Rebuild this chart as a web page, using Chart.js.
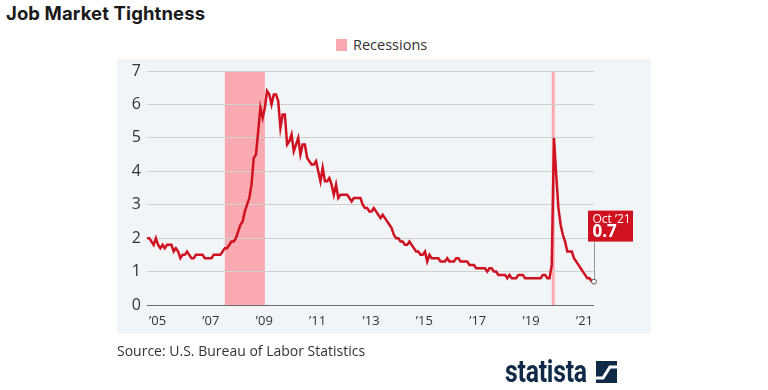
<!DOCTYPE html>
<html>
<head>
<meta charset="utf-8">
<script src="https://cdn.jsdelivr.net/npm/chart.js@4.4.1/dist/chart.umd.min.js"></script>
<style>
  body { margin: 0; width: 768px; height: 390px; background: #fff; position: relative; overflow: hidden; font-family: "Open Sans", sans-serif; }
  #titulo { position: absolute; left: 6px; top: 2px; font: 700 18.5px Inter, sans-serif; color: #1a1a1a; letter-spacing: 0.1px; }
  #legenda { position: absolute; left: 336px; top: 35px; font-size: 14.5px; color: #333; display: flex; align-items: center; }
  #legenda span.caixa { width: 11px; height: 12px; background: #fba9b0; margin-right: 6px; display: inline-block; }
  #painel { position: absolute; left: 117px; top: 59px; width: 534px; height: 275px; background: #f2f5f8; }
  #grafico { position: absolute; left: 0; top: 0; }
  #fonte { position: absolute; left: 117px; top: 341px; font-size: 14px; color: #333; }
  #logo { position: absolute; left: 505px; top: 353px; display: flex; align-items: center; }
  #logo span { font: 700 31px Roboto, sans-serif; color: #0f2a46; transform: scaleX(0.8); transform-origin: left center; display: inline-block; width: 87px; letter-spacing: -0.3px; }
</style>
</head>
<body>
<div id="titulo">Job Market Tightness</div>
<div id="legenda"><span class="caixa"></span>Recessions</div>
<div id="painel"></div>
<canvas id="grafico" width="768" height="390"></canvas>
<div id="fonte">Source: U.S. Bureau of Labor Statistics</div>
<div id="logo"><span>statista</span>
  <svg width="21" height="22" viewBox="0 0 21 22" style="margin-left:4px">
    <rect x="0" y="0" width="21" height="22" fill="#0f2a46"/>
    <polyline points="0,17 7,17 14,6 21,6" fill="none" stroke="#fff" stroke-width="3"/>
  </svg>
</div>

<script>
// ===================== DADOS =======================

const anos = ["2005", "2006", "2007", "2008", "2009", "2010", "2011", "2012", "2013",
  "2014", "2015", "2016", "2017", "2018", "2019", "2020", "2021"];
const meses = ["Jan", "Feb", "Mar", "Apr", "May", "Jun", "Jul", "Aug", "Sep", "Oct", "Nov", "Dec"];

// unemployed persons per job opening, monthly (Jan 2005 - Oct 2021)
const valores = [
  2.0, 2.0, 1.9, 1.8, 2.0, 1.8, 1.7, 1.8, 1.7, 1.8, 1.8, 1.8, // 2005
  1.6, 1.7, 1.6, 1.4, 1.5, 1.5, 1.6, 1.5, 1.4, 1.4, 1.5, 1.5, // 2006
  1.5, 1.5, 1.4, 1.4, 1.4, 1.4, 1.5, 1.5, 1.5, 1.5, 1.6, 1.7, // 2007
  1.7, 1.8, 1.9, 1.9, 2.0, 2.2, 2.4, 2.5, 2.8, 3.0, 3.2, 3.6, // 2008
  4.4, 4.5, 5.2, 5.9, 5.6, 5.9, 6.4, 6.3, 6.0, 6.3, 6.3, 6.1, // 2009
  5.3, 5.7, 5.7, 4.8, 4.9, 5.1, 4.6, 4.8, 5.0, 4.5, 4.8, 4.8, // 2010
  4.4, 4.3, 4.2, 4.2, 4.3, 4.0, 3.7, 4.1, 3.7, 3.7, 3.8, 3.6, // 2011
  3.3, 3.6, 3.2, 3.3, 3.3, 3.3, 3.3, 3.2, 3.1, 3.2, 3.2, 3.2, // 2012
  3.2, 3.0, 2.9, 2.9, 2.8, 2.8, 2.9, 2.8, 2.7, 2.6, 2.7, 2.6, // 2013
  2.5, 2.4, 2.3, 2.1, 2.0, 2.0, 1.9, 1.9, 1.8, 1.8, 1.9, 1.8, // 2014
  1.7, 1.6, 1.6, 1.5, 1.5, 1.6, 1.3, 1.5, 1.4, 1.4, 1.4, 1.4, // 2015
  1.3, 1.3, 1.3, 1.4, 1.3, 1.3, 1.3, 1.4, 1.4, 1.3, 1.3, 1.3, // 2016
  1.3, 1.2, 1.2, 1.2, 1.1, 1.1, 1.1, 1.1, 1.1, 1.0, 1.1, 1.1, // 2017
  1.0, 1.0, 0.9, 0.9, 0.9, 0.9, 0.8, 0.9, 0.8, 0.8, 0.8, 0.9, // 2018
  0.9, 0.9, 0.8, 0.8, 0.8, 0.8, 0.8, 0.8, 0.8, 0.8, 0.9, 0.9, // 2019
  0.8, 0.8, 1.2, 5.0, 3.9, 2.9, 2.4, 2.1, 1.9, 1.6, 1.6, 1.6, // 2020
  1.4, 1.3, 1.2, 1.1, 1.0, 0.9, 0.8, 0.8, 0.7, 0.7           // 2021
];

// month categories built from the lists above
const categorias = [];
anos.forEach((ano) => {
  meses.forEach((mes) => {
    if (categorias.length < valores.length) categorias.push(`${mes} ${ano}`);
  });
});

const ticksX = ["Jan 2005", "Jan 2007", "Jan 2009", "Jan 2011", "Jan 2013",
  "Jan 2015", "Jan 2017", "Jan 2019", "Jan 2021"];
const rotulosX = ["’05", "’07", "’09", "’11", "’13", "’15", "’17", "’19", "’21"];

const recessaoInicio = ["Dec 2007", "Mar 2020"];
const recessaoFim = ["Jun 2009", "Apr 2020"];

const VERMELHO = "#d0111f";

//===================== PLUGINS =======================

const faixasRecessao = {
  id: "faixasRecessao",
  beforeDraw(chart) {
    const { ctx, chartArea, scales } = chart;
    ctx.save();
    ctx.fillStyle = "#fba9b0";
    recessaoInicio.forEach((ini, i) => {
      const x1 = scales.x.getPixelForValue(categorias.indexOf(ini));
      const x2 = scales.x.getPixelForValue(categorias.indexOf(recessaoFim[i]));
      ctx.fillRect(x1, chartArea.top, Math.max(x2 - x1, 3), chartArea.bottom - chartArea.top);
    });
    ctx.restore();
  },
};

const rotuloFinal = {
  id: "rotuloFinal",
  afterDatasetsDraw(chart) {
    const { ctx } = chart;
    const meta = chart.getDatasetMeta(0);
    const ult = valores.length - 1;
    const pt = meta.data[ult];
    const topo = pt.y - 71;
    const base = pt.y - 40;

    ctx.save();
    ctx.strokeStyle = "#9a9a9a";
    ctx.lineWidth = 1;
    ctx.beginPath();
    ctx.moveTo(Math.round(pt.x) + 0.5, base);
    ctx.lineTo(Math.round(pt.x) + 0.5, pt.y - 2.5);
    ctx.stroke();

    ctx.fillStyle = VERMELHO;
    ctx.fillRect(pt.x - 6, topo, 45, base - topo);

    const [mes, ano] = categorias[ult].split(" ");
    ctx.fillStyle = "#fff";
    ctx.textAlign = "left";
    ctx.textBaseline = "alphabetic";
    ctx.font = '12px "Open Sans"';
    ctx.fillText(`${mes} ’${ano.slice(2)}`, pt.x - 1.5, topo + 12);
    ctx.font = 'bold 17px "Open Sans"';
    ctx.fillText(valores[ult].toFixed(1), pt.x - 1.5, topo + 26);
    ctx.restore();
  },
};

//===================== GRAFICO =======================

const ctx = document.getElementById("grafico");

new Chart(ctx, {
  type: "line",
  data: {
    labels: categorias,
    datasets: [
      {
        label: "Unemployed per job opening",
        data: valores,
        borderColor: VERMELHO,
        borderWidth: 2.5,
        tension: 0,
        clip: false,
        pointRadius: (c) => (c.dataIndex === valores.length - 1 ? 2.5 : 0),
        pointBackgroundColor: "#fff",
        pointBorderColor: "#555",
        pointBorderWidth: 1,
      },
    ],
  },
  plugins: [faixasRecessao, rotuloFinal],
  options: {
    responsive: false,
    animation: false,
    layout: {
      padding: { left: 117, right: 174, top: 71, bottom: 60 },
    },
    plugins: {
      legend: { display: false },
      tooltip: { enabled: false },
    },
    scales: {
      x: {
        offset: false,
        grid: { display: false },
        border: { display: false },
        afterFit: (s) => { s.height = 25; },
        ticks: {
          autoSkip: false,
          maxRotation: 0,
          minRotation: 0,
          align: "start",
          labelOffset: 2,
          padding: 0,
          color: "#333",
          font: { family: "Open Sans", size: 13 },
          callback: (v, i) => {
            const k = ticksX.indexOf(categorias[i]);
            return k >= 0 ? rotulosX[k] : null;
          },
        },
      },
      y: {
        min: 0,
        max: 7,
        border: { display: false },
        afterFit: (s) => { s.width = 30; },
        grid: {
          drawTicks: false,
          color: (c) => (c.tick.value === 0 ? "#6b6b6b" : "#cfcfcf"),
          lineWidth: 1,
        },
        ticks: {
          stepSize: 1,
          padding: 6,
          color: "#333",
          font: { family: "Open Sans", size: 16 },
        },
      },
    },
  },
});
</script>
</body>
</html>
